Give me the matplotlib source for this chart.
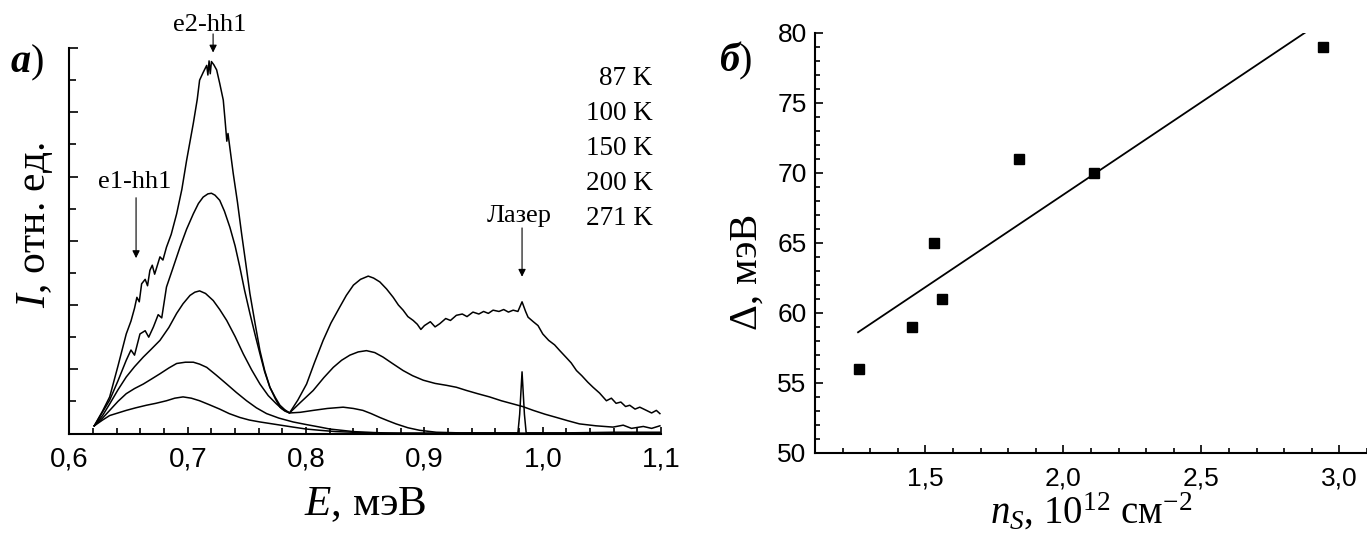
import matplotlib
matplotlib.use("Agg")
import matplotlib.pyplot as plt
from matplotlib.ticker import MultipleLocator, NullFormatter, FuncFormatter

plt.rcParams['mathtext.fontset'] = 'custom'
plt.rcParams['mathtext.rm'] = 'Liberation Serif'
plt.rcParams['mathtext.it'] = 'Liberation Serif:italic'
plt.rcParams['mathtext.bf'] = 'Liberation Serif:bold'
plt.rcParams['font.family'] = ['Liberation Sans', 'DejaVu Sans']

# ---------------- data: panel a (PL spectra) ----------------
temps = ["87 K", "100 K", "150 K", "200 K", "271 K"]

E_87 = [0.621, 0.628, 0.634, 0.641, 0.648, 0.652, 0.655, 0.657, 0.659, 0.661, 0.664, 0.666,
        0.668, 0.670, 0.672, 0.6765, 0.679, 0.682, 0.686, 0.6906, 0.695, 0.699, 0.7047, 0.708,
        0.710, 0.713, 0.716, 0.717, 0.718, 0.719, 0.720, 0.722, 0.7244, 0.727, 0.730, 0.7315,
        0.733, 0.734, 0.7384, 0.742, 0.7455, 0.749, 0.7525, 0.757, 0.761, 0.765, 0.7694, 0.774,
        0.7779, 0.782, 0.786, 0.793, 0.8004, 0.807, 0.8144, 0.821, 0.8285, 0.834, 0.840, 0.846,
        0.8525, 0.857, 0.8623, 0.868, 0.8736, 0.878, 0.882, 0.886, 0.8905, 0.894, 0.897, 0.900,
        0.905, 0.909, 0.913, 0.918, 0.922, 0.927, 0.932, 0.936, 0.941, 0.946, 0.950, 0.954,
        0.958, 0.963, 0.967, 0.971, 0.975, 0.979, 0.9825, 0.9855, 0.9876, 0.992, 0.996, 1.000,
        1.005, 1.010, 1.0144, 1.020, 1.024, 1.0285, 1.033, 1.038, 1.0425, 1.048, 1.0538, 1.058,
        1.062, 1.066, 1.070, 1.0735, 1.078, 1.082, 1.0876, 1.092, 1.096, 1.099]
I_87 = [0.12, 0.35, 0.57, 1.05, 1.55, 1.75, 1.95, 2.12, 2.05, 2.33, 2.40, 2.30,
        2.54, 2.62, 2.48, 2.75, 2.70, 2.90, 3.10, 3.42, 3.80, 4.25, 4.83, 5.20,
        5.50, 5.62, 5.73, 5.58, 5.80, 5.60, 5.79, 5.74, 5.66, 5.45, 5.19, 4.88,
        4.55, 4.67, 4.05, 3.60, 3.11, 2.65, 2.18, 1.70, 1.29, 0.98, 0.72, 0.54,
        0.41, 0.35, 0.32, 0.52, 0.77, 1.10, 1.45, 1.72, 1.97, 2.15, 2.31, 2.40,
        2.45, 2.42, 2.36, 2.25, 2.12, 2.00, 1.92, 1.82, 1.76, 1.70, 1.62, 1.68,
        1.74, 1.66, 1.71, 1.79, 1.76, 1.84, 1.86, 1.82, 1.89, 1.86, 1.90, 1.87,
        1.92, 1.90, 1.93, 1.89, 1.92, 1.90, 2.05, 1.90, 1.81, 1.74, 1.68, 1.55,
        1.45, 1.38, 1.29, 1.18, 1.10, 0.98, 0.90, 0.80, 0.72, 0.63, 0.51, 0.55,
        0.47, 0.49, 0.42, 0.44, 0.38, 0.41, 0.36, 0.32, 0.36, 0.31]

E_100 = [0.621, 0.634, 0.641, 0.648, 0.652, 0.655, 0.6596, 0.664, 0.667, 0.671, 0.675, 0.678,
         0.682, 0.687, 0.6934, 0.699, 0.7047, 0.709, 0.713, 0.717, 0.720, 0.723, 0.727, 0.731,
         0.7356, 0.740, 0.744, 0.748, 0.7525, 0.757, 0.761, 0.765, 0.7694, 0.774, 0.7779,
         0.782, 0.786, 0.795, 0.806, 0.815, 0.823, 0.830, 0.837, 0.844, 0.851, 0.858,
         0.865, 0.873, 0.882, 0.890, 0.899, 0.909, 0.9187, 0.927, 0.9356, 0.945, 0.955, 0.965,
         0.975, 0.983, 0.992, 1.002, 1.0116, 1.021, 1.031, 1.045, 1.0594, 1.068, 1.075, 1.085,
         1.092, 1.099]
I_100 = [0.12, 0.52, 0.82, 1.14, 1.30, 1.22, 1.55, 1.60, 1.50, 1.66, 1.85, 1.80,
         2.28, 2.55, 2.90, 3.18, 3.42, 3.58, 3.68, 3.73, 3.74, 3.71, 3.63, 3.46,
         3.21, 2.92, 2.59, 2.23, 1.87, 1.53, 1.24, 0.96, 0.72, 0.56, 0.44,
         0.37, 0.32, 0.48, 0.67, 0.87, 1.03, 1.14, 1.22, 1.27, 1.29, 1.26,
         1.19, 1.09, 0.98, 0.90, 0.83, 0.78, 0.75, 0.72, 0.67, 0.62, 0.57, 0.51,
         0.46, 0.42, 0.36, 0.30, 0.25, 0.20, 0.15, 0.12, 0.10, 0.13, 0.08, 0.11,
         0.08, 0.12]

E_150 = [0.621, 0.628, 0.634, 0.641, 0.648, 0.655, 0.6624, 0.669, 0.6765, 0.684, 0.6906, 0.696,
         0.7019, 0.706, 0.710, 0.715, 0.7215, 0.727, 0.7329, 0.740, 0.7469, 0.754, 0.761,
         0.768, 0.775, 0.780, 0.786, 0.795, 0.806, 0.818, 0.8313, 0.840, 0.848, 0.855, 0.8623,
         0.869, 0.876, 0.886, 0.896, 0.910, 0.930, 0.979, 0.9805, 0.9825, 0.9845, 0.986,
         1.02, 1.06, 1.099]
I_150 = [0.12, 0.28, 0.46, 0.68, 0.88, 1.04, 1.19, 1.31, 1.45, 1.65, 1.87, 2.02,
         2.15, 2.20, 2.22, 2.18, 2.07, 1.93, 1.76, 1.51, 1.24, 0.99, 0.77,
         0.59, 0.46, 0.38, 0.32, 0.33, 0.36, 0.39, 0.41, 0.39, 0.36, 0.31, 0.25,
         0.20, 0.15, 0.09, 0.05, 0.02, 0.01, 0.01, 0.30, 0.96, 0.30, 0.01,
         0.01, 0.02, 0.02]

E_200 = [0.621, 0.628, 0.634, 0.641, 0.648, 0.655, 0.6624, 0.6695, 0.6765, 0.684, 0.6906,
         0.698, 0.7047, 0.710, 0.716, 0.724, 0.7329, 0.741, 0.7497, 0.758, 0.7666, 0.777,
         0.789, 0.800, 0.8117, 0.82, 0.83, 0.84, 0.85, 0.865, 0.88, 1.1]
I_200 = [0.12, 0.24, 0.36, 0.50, 0.62, 0.70, 0.77, 0.85, 0.93, 1.02, 1.09,
         1.11, 1.11, 1.08, 1.03, 0.91, 0.77, 0.64, 0.51, 0.40, 0.31, 0.24,
         0.18, 0.14, 0.10, 0.07, 0.05, 0.03, 0.02, 0.01, 0.005, 0.0]

E_271 = [0.621, 0.628, 0.634, 0.641, 0.648, 0.656, 0.665, 0.673, 0.682, 0.689, 0.696, 0.703,
         0.710, 0.718, 0.727, 0.735, 0.744, 0.752, 0.761, 0.775, 0.789, 0.80, 0.8117, 0.825,
         0.84, 0.87, 1.1]
I_271 = [0.12, 0.21, 0.28, 0.32, 0.36, 0.40, 0.44, 0.47, 0.51, 0.55, 0.57, 0.55,
         0.51, 0.45, 0.38, 0.31, 0.25, 0.21, 0.18, 0.14, 0.10, 0.07, 0.05, 0.03,
         0.02, 0.005, 0.0]

# ---------------- data: panel b ----------------
ns = [1.26, 1.45, 1.53, 1.56, 1.84, 2.11, 2.94]
delta = [56, 59, 65, 61, 71, 70, 79]
fit_x = [1.256, 2.883]
fit_y = [58.6, 80.1]

x_ticks_a = [0.6, 0.7, 0.8, 0.9, 1.0, 1.1]
x_ticks_b = [1.5, 2.0, 2.5, 3.0]
y_ticks_b = [50, 55, 60, 65, 70, 75, 80]

serif = ['Liberation Serif', 'DejaVu Serif']
comma = FuncFormatter(lambda v, p: f"{v:.1f}".replace('.', ','))

fig = plt.figure(figsize=(13.67, 5.38), dpi=100)

# ---------------- panel a ----------------
ax = fig.add_axes([0.0508, 0.1942, 0.4328, 0.7165])
lw = 1.1
for E, I in [(E_87, I_87), (E_100, I_100), (E_150, I_150), (E_200, I_200), (E_271, I_271)]:
    ax.plot(E, I, color='black', lw=lw)
ax.set_xlim(0.6, 1.1)
ax.set_ylim(0, 6)
ax.set_xticks(x_ticks_a)
ax.xaxis.set_major_formatter(comma)
ax.xaxis.set_minor_locator(MultipleLocator(0.02))
ax.yaxis.set_major_locator(MultipleLocator(1))
ax.yaxis.set_minor_locator(MultipleLocator(0.5))
ax.yaxis.set_major_formatter(NullFormatter())
ax.tick_params(axis='both', which='both', direction='in', width=1.2)
ax.tick_params(axis='x', which='major', length=5, labelsize=20, pad=9)
ax.tick_params(axis='x', which='minor', length=4)
ax.tick_params(axis='y', which='major', length=6.5)
ax.tick_params(axis='y', which='minor', length=5)
for s in ['top', 'right']:
    ax.spines[s].set_visible(False)
for s in ['left', 'bottom']:
    ax.spines[s].set_linewidth(1.5)

ax.set_xlabel(r'$\mathit{E}$, мэВ', fontsize=31, family=serif)
ax.xaxis.set_label_coords(0.5, -0.135)
ax.set_ylabel(r'$\mathit{I}$, отн. ед.', fontsize=30, family=serif)
ax.yaxis.set_label_coords(-0.024, 0.54)

ap = dict(arrowstyle='-|>', lw=0.8, color='black', mutation_scale=11, shrinkA=0, shrinkB=0)
ax.annotate('', xy=(0.6563, 2.73), xytext=(0.6563, 3.67), arrowprops=ap)
ax.text(0.6553, 3.82, 'e1-hh1', ha='center', va='baseline', fontsize=19, family=serif)
ax.annotate('', xy=(0.7214, 5.93), xytext=(0.7214, 6.22), arrowprops=ap, annotation_clip=False)
ax.text(0.7189, 6.27, 'e2-hh1', ha='center', va='baseline', fontsize=19, family=serif, clip_on=False)
ax.annotate('', xy=(0.9825, 2.44), xytext=(0.9825, 3.2), arrowprops=ap)
ax.text(0.980, 3.29, 'Лазер', ha='center', va='baseline', fontsize=19, family=serif)

t_y = [5.43, 4.88, 4.34, 3.79, 3.24]
for lab, yy in zip(temps, t_y):
    ax.text(1.0929, yy, lab, ha='right', va='baseline', fontsize=19.5, family=serif)

ta = fig.text(0.0075, 0.866, 'а', fontsize=29, family=serif, style='italic', weight='bold',
              va='baseline')
ax.annotate(')', xy=(1, 0), xycoords=ta, va='bottom', ha='left', fontsize=29, family=serif)

# ---------------- panel b ----------------
bx = fig.add_axes([0.5962, 0.1586, 0.4038, 0.7807])
bx.plot(fit_x, fit_y, color='black', lw=1.3)
bx.plot(ns, delta, ls='none', marker='s', ms=6.5, color='black')
bx.set_xlim(1.1, 3.1)
bx.set_ylim(50, 80)
bx.set_xticks(x_ticks_b)
bx.set_yticks(y_ticks_b)
bx.xaxis.set_major_formatter(comma)
bx.xaxis.set_minor_locator(MultipleLocator(0.1))
bx.yaxis.set_minor_locator(MultipleLocator(1))
bx.tick_params(axis='both', which='both', direction='in', width=1.2)
bx.tick_params(axis='both', which='major', length=6, labelsize=19)
bx.tick_params(axis='both', which='minor', length=3.8)
bx.tick_params(axis='x', which='major', pad=10)
bx.tick_params(axis='y', which='major', pad=6)
for s in ['top', 'right']:
    bx.spines[s].set_visible(False)
for s in ['left', 'bottom']:
    bx.spines[s].set_linewidth(1.5)

bx.set_xlabel(r'$\mathit{n}_\mathit{S}$, 10$^{12}$ см$^{-2}$', fontsize=28, family=serif)
bx.xaxis.set_label_coords(0.5, -0.092)
bx.set_ylabel('Δ, мэВ', fontsize=29, family=serif)
bx.yaxis.set_label_coords(-0.09, 0.43)

tb = fig.text(0.526, 0.868, 'б', fontsize=29, family=serif, style='italic', weight='bold',
              va='baseline')
bx.annotate(')', xy=(1, 0), xycoords=tb, va='bottom', ha='left', fontsize=29, family=serif)

fig.savefig('out.png', dpi=100)
